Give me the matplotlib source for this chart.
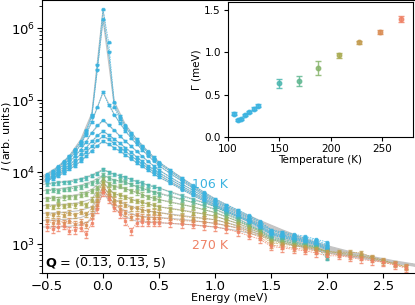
import numpy as np
import matplotlib.pyplot as plt

# temperatures (K) and inset linewidth Gamma (meV)
temps = [106, 110, 113, 117, 121, 125, 129, 150, 169, 188, 208, 228, 248, 268]
gamma = [0.275, 0.205, 0.215, 0.26, 0.30, 0.335, 0.37, 0.635, 0.665, 0.815, 0.965, 1.12, 1.245, 1.40]
gamma_err = [0.015, 0.012, 0.012, 0.012, 0.013, 0.014, 0.016, 0.05, 0.06, 0.08, 0.025, 0.022, 0.025, 0.035]
colors = ["#3bb3e0"] * 7 + ["#4cb7b0", "#62b892", "#88b56c", "#a9ab52", "#c39c50", "#da8d55", "#ef8266"]

# energy grids (meV)
E_low = [-0.5, -0.45, -0.4, -0.35, -0.3, -0.25, -0.2, -0.15, -0.1, -0.05, 0.0,
         0.05, 0.1, 0.15, 0.2, 0.25, 0.3, 0.35, 0.4, 0.45, 0.5]
E_high = [0.6, 0.7, 0.8, 0.9, 1.0, 1.1, 1.2, 1.3, 1.4, 1.5, 1.6, 1.7, 1.8, 1.9, 2.0]
E_tail = [2.1, 2.2, 2.3, 2.4, 2.5, 2.6, 2.7]
E_fit = [-0.6, -0.5, -0.4, -0.3, -0.2, -0.1, 0.0, 0.1, 0.2, 0.3, 0.4, 0.5, 0.6,
         0.8, 1.0, 1.2, 1.4, 1.6, 1.8, 2.0, 2.2, 2.4, 2.6, 2.8]

logI_106 = [3.97, 4.02, 4.08, 4.15, 4.23, 4.32, 4.43, 4.58, 4.80, 5.49, 6.26, 5.80, 4.97, 4.78, 4.65, 4.55, 4.46, 4.37, 4.29, 4.21, 4.14,
            4.03, 3.92, 3.82, 3.72, 3.63, 3.55, 3.48, 3.40, 3.32, 3.20, 3.17, 3.14, 3.11, 3.07, 3.03]
logI_110 = [3.95, 4.00, 4.07, 4.13, 4.21, 4.30, 4.41, 4.55, 4.77, 5.42, 6.12, 5.67, 4.90, 4.74, 4.62, 4.52, 4.43, 4.35, 4.27, 4.19, 4.12,
            4.01, 3.90, 3.80, 3.70, 3.61, 3.53, 3.46, 3.38, 3.30, 3.19, 3.15, 3.12, 3.09, 3.05, 3.00]
logI_113 = [3.93, 3.98, 4.04, 4.10, 4.18, 4.27, 4.38, 4.52, 4.70, 4.90, 5.11, 4.93, 4.80, 4.68, 4.57, 4.47, 4.39, 4.31, 4.23, 4.16, 4.09,
            3.98, 3.88, 3.78, 3.68, 3.59, 3.51, 3.44, 3.36, 3.28, 3.17, 3.13, 3.10, 3.07, 3.03, 2.98]
logI_117 = [3.91, 3.96, 4.01, 4.07, 4.14, 4.22, 4.31, 4.42, 4.55, 4.65, 4.72, 4.66, 4.58, 4.50, 4.43, 4.36, 4.29, 4.22, 4.15, 4.09, 4.03,
            3.93, 3.84, 3.75, 3.66, 3.57, 3.49, 3.42, 3.34, 3.26, 3.16, 3.12, 3.09, 3.06, 3.02, 2.96]
logI_121 = [3.90, 3.94, 3.99, 4.04, 4.10, 4.17, 4.25, 4.34, 4.43, 4.51, 4.57, 4.52, 4.46, 4.40, 4.34, 4.28, 4.21, 4.15, 4.09, 4.04, 3.99,
            3.90, 3.81, 3.72, 3.64, 3.55, 3.47, 3.40, 3.33, 3.25, 3.15, 3.11, 3.08, 3.05, 3.01, 2.94]
logI_125 = [3.89, 3.93, 3.97, 4.02, 4.07, 4.13, 4.20, 4.28, 4.36, 4.44, 4.50, 4.46, 4.40, 4.34, 4.29, 4.23, 4.17, 4.11, 4.06, 4.01, 3.96,
            3.87, 3.78, 3.70, 3.62, 3.54, 3.46, 3.39, 3.32, 3.24, 3.14, 3.10, 3.07, 3.04, 3.00, 2.93]
logI_129 = [3.88, 3.91, 3.95, 3.99, 4.04, 4.09, 4.15, 4.22, 4.30, 4.37, 4.43, 4.39, 4.34, 4.29, 4.24, 4.19, 4.13, 4.08, 4.03, 3.98, 3.93,
            3.85, 3.76, 3.68, 3.60, 3.52, 3.45, 3.38, 3.31, 3.23, 3.13, 3.09, 3.06, 3.03, 2.99, 2.92]
logI_150 = [3.83, 3.84, 3.85, 3.86, 3.86, 3.88, 3.90, 3.92, 3.95, 3.98, 4.04, 4.00, 3.97, 3.95, 3.93, 3.90, 3.87, 3.85, 3.82, 3.80, 3.78,
            3.72, 3.67, 3.62, 3.57, 3.52, 3.44, 3.36, 3.27, 3.20, 3.10, 3.07, 3.04, 3.00, 2.97, 2.80]
logI_169 = [3.74, 3.75, 3.74, 3.76, 3.77, 3.78, 3.80, 3.82, 3.85, 3.88, 3.96, 3.92, 3.88, 3.89, 3.86, 3.83, 3.80, 3.78, 3.75, 3.72, 3.70,
            3.66, 3.62, 3.58, 3.53, 3.48, 3.41, 3.34, 3.26, 3.19, 3.08, 3.05, 3.02, 2.99, 2.96, 2.88]
logI_188 = [3.63, 3.64, 3.62, 3.65, 3.66, 3.66, 3.69, 3.70, 3.74, 3.78, 3.90, 3.84, 3.80, 3.81, 3.77, 3.74, 3.72, 3.69, 3.66, 3.64, 3.62,
            3.58, 3.55, 3.52, 3.48, 3.44, 3.38, 3.32, 3.25, 3.18, 3.06, 3.04, 3.01, 2.98, 2.95, 2.90]
logI_208 = [3.53, 3.52, 3.54, 3.53, 3.55, 3.54, 3.57, 3.55, 3.62, 3.70, 3.86, 3.76, 3.70, 3.68, 3.66, 3.62, 3.60, 3.58, 3.56, 3.54, 3.52,
            3.49, 3.47, 3.44, 3.42, 3.39, 3.34, 3.29, 3.22, 3.16, 3.04, 3.02, 2.99, 2.97, 2.95, 2.90,
            2.88, 2.86, 2.84, 2.81, 2.77, 2.73, 2.69]
logI_228 = [3.42, 3.40, 3.43, 3.41, 3.44, 3.40, 3.45, 3.42, 3.50, 3.62, 3.80, 3.70, 3.62, 3.58, 3.55, 3.50, 3.50, 3.48, 3.46, 3.45, 3.44,
            3.41, 3.39, 3.37, 3.36, 3.34, 3.30, 3.25, 3.19, 3.13, 3.02, 3.00, 2.98, 2.96, 2.93, 2.90,
            2.89, 2.89, 2.88, 2.82, 2.78, 2.73, 2.69]
logI_248 = [3.32, 3.30, 3.33, 3.30, 3.33, 3.28, 3.31, 3.27, 3.40, 3.55, 3.76, 3.66, 3.56, 3.49, 3.44, 3.38, 3.40, 3.38, 3.37, 3.37, 3.37,
            3.35, 3.33, 3.32, 3.31, 3.29, 3.26, 3.22, 3.16, 3.10, 2.99, 2.97, 2.95, 2.93, 2.91, 2.87,
            2.86, 2.84, 2.82, 2.80, 2.75, 2.72, 2.68]
logI_268 = [3.24, 3.21, 3.24, 3.26, 3.19, 3.20, 3.23, 3.14, 3.30, 3.49, 3.72, 3.63, 3.51, 3.42, 3.32, 3.18, 3.30, 3.31, 3.30, 3.30, 3.30,
            3.29, 3.28, 3.27, 3.25, 3.24, 3.21, 3.17, 3.12, 3.07, 2.97, 2.95, 2.93, 2.91, 2.88, 2.84,
            2.84, 2.82, 2.79, 2.77, 2.75, 2.71, 2.67]
data_log = [logI_106, logI_110, logI_113, logI_117, logI_121, logI_125, logI_129,
            logI_150, logI_169, logI_188, logI_208, logI_228, logI_248, logI_268]
# relative error bar size of each data set
rel_err = [0.02, 0.02, 0.025, 0.025, 0.03, 0.03, 0.03, 0.05, 0.06, 0.07, 0.07, 0.08, 0.09, 0.11]

# fitted model, log10(I) on E_fit
fit_106 = [3.90, 3.98, 4.08, 4.23, 4.45, 4.82, 6.26, 4.98, 4.66, 4.46, 4.29, 4.14, 4.03, 3.82, 3.63, 3.47, 3.33, 3.20, 3.08, 2.98, 2.90, 2.83, 2.77, 2.72]
fit_110 = [3.88, 3.96, 4.06, 4.21, 4.42, 4.78, 6.12, 4.92, 4.63, 4.43, 4.27, 4.12, 4.01, 3.80, 3.61, 3.45, 3.32, 3.19, 3.07, 2.97, 2.89, 2.82, 2.76, 2.71]
fit_113 = [3.86, 3.94, 4.04, 4.18, 4.38, 4.70, 5.11, 4.80, 4.57, 4.39, 4.23, 4.09, 3.98, 3.78, 3.59, 3.44, 3.31, 3.18, 3.06, 2.96, 2.88, 2.81, 2.75, 2.71]
fit_117 = [3.85, 3.91, 4.01, 4.14, 4.31, 4.55, 4.72, 4.58, 4.43, 4.29, 4.15, 4.03, 3.93, 3.75, 3.57, 3.42, 3.29, 3.17, 3.05, 2.96, 2.88, 2.81, 2.75, 2.70]
fit_121 = [3.84, 3.90, 3.99, 4.10, 4.25, 4.43, 4.57, 4.46, 4.34, 4.21, 4.09, 3.99, 3.90, 3.72, 3.55, 3.40, 3.28, 3.16, 3.05, 2.95, 2.87, 2.80, 2.75, 2.70]
fit_125 = [3.83, 3.89, 3.97, 4.07, 4.20, 4.36, 4.50, 4.40, 4.29, 4.17, 4.06, 3.96, 3.87, 3.70, 3.54, 3.39, 3.27, 3.15, 3.04, 2.95, 2.87, 2.80, 2.74, 2.70]
fit_129 = [3.82, 3.88, 3.95, 4.04, 4.15, 4.30, 4.43, 4.34, 4.24, 4.13, 4.03, 3.93, 3.85, 3.68, 3.52, 3.38, 3.26, 3.14, 3.03, 2.94, 2.87, 2.80, 2.74, 2.69]
fit_150 = [3.81, 3.84, 3.86, 3.88, 3.91, 3.96, 4.04, 3.97, 3.93, 3.87, 3.82, 3.78, 3.73, 3.63, 3.53, 3.38, 3.24, 3.12, 3.02, 2.93, 2.86, 2.80, 2.75, 2.71]
fit_169 = [3.73, 3.75, 3.77, 3.79, 3.82, 3.87, 3.96, 3.89, 3.86, 3.80, 3.75, 3.71, 3.67, 3.58, 3.49, 3.35, 3.22, 3.10, 3.01, 2.93, 2.86, 2.80, 2.75, 2.71]
fit_188 = [3.63, 3.64, 3.65, 3.67, 3.70, 3.76, 3.90, 3.80, 3.77, 3.72, 3.66, 3.62, 3.59, 3.52, 3.44, 3.32, 3.20, 3.09, 3.00, 2.92, 2.86, 2.80, 2.75, 2.71]
fit_208 = [3.53, 3.54, 3.55, 3.56, 3.58, 3.63, 3.86, 3.70, 3.66, 3.60, 3.56, 3.52, 3.50, 3.45, 3.39, 3.29, 3.18, 3.07, 2.99, 2.91, 2.85, 2.80, 2.75, 2.71]
fit_228 = [3.43, 3.43, 3.44, 3.45, 3.47, 3.52, 3.80, 3.62, 3.56, 3.50, 3.46, 3.44, 3.42, 3.38, 3.34, 3.26, 3.16, 3.05, 2.97, 2.90, 2.85, 2.80, 2.75, 2.71]
fit_248 = [3.33, 3.33, 3.34, 3.35, 3.37, 3.43, 3.76, 3.56, 3.46, 3.40, 3.38, 3.37, 3.36, 3.33, 3.29, 3.23, 3.14, 3.03, 2.96, 2.89, 2.84, 2.79, 2.74, 2.70]
fit_268 = [3.24, 3.24, 3.24, 3.25, 3.27, 3.34, 3.72, 3.50, 3.38, 3.32, 3.31, 3.30, 3.29, 3.27, 3.24, 3.19, 3.12, 3.02, 2.95, 2.88, 2.83, 2.78, 2.74, 2.70]
fit_log = [fit_106, fit_110, fit_113, fit_117, fit_121, fit_125, fit_129,
           fit_150, fit_169, fit_188, fit_208, fit_228, fit_248, fit_268]


fig = plt.figure(figsize=(4.15, 3.05), dpi=100)
ax = fig.add_axes([0.101, 0.105, 0.904, 0.895])

for fl in fit_log:
    ax.plot(E_fit, 10 ** np.array(fl), color="#c4c4c4", lw=0.8, zorder=1)

all_E = E_low + E_high + E_tail
for dl, c, r in zip(data_log, colors, rel_err):
    I = 10 ** np.array(dl)
    E = all_E[:len(dl)]
    ax.errorbar(E, I, yerr=I * r, fmt="s", ms=2, color=c, ls=(0, (2, 1)), lw=0.6,
                elinewidth=0.5, capsize=1.2, alpha=0.8, zorder=2)

ax.set_yscale("log")
ax.set_xlim(-0.545, 2.8)
ax.set_ylim(400, 2.45e6)
ax.set_xticks([-0.5, 0.0, 0.5, 1.0, 1.5, 2.0, 2.5])
ax.tick_params(labelsize=9.5, length=3.5, pad=1.5)
ax.tick_params(which="minor", length=2)
ax.set_xlabel("Energy (meV)", fontsize=8, labelpad=0)
ax.set_ylabel("$I$ (arb. units)", fontsize=8)
ax.yaxis.set_label_coords(-0.077, 0.5)
ax.text(0.79, 6800, "106 K", color=colors[0], fontsize=9, va="center")
ax.text(0.79, 970, "270 K", color=colors[-1], fontsize=9, va="center")
ax.text(-0.52, 560, r"$\mathbf{Q}$ = ($\overline{0.13}$, $\overline{0.13}$, 5)", fontsize=9.2, va="center")

# inset: linewidth vs temperature
ins = fig.add_axes([0.549, 0.551, 0.446, 0.443])
for t, g, ge, c in zip(temps, gamma, gamma_err, colors):
    ins.errorbar(t, g, yerr=ge, fmt="o", ms=3.2, color=c, capsize=2.5, elinewidth=1, alpha=0.85)
ins.set_xlim(100, 280)
ins.set_ylim(0, 1.6)
ins.set_xticks([100, 150, 200, 250])
ins.set_yticks([0.0, 0.5, 1.0, 1.5])
ins.tick_params(labelsize=7.5, length=3, pad=2)
ins.set_xlabel("Temperature (K)", fontsize=7.5, labelpad=1)
ins.set_ylabel("Γ (meV)", fontsize=7.5, labelpad=2)

fig.savefig("out.png", dpi=100)
